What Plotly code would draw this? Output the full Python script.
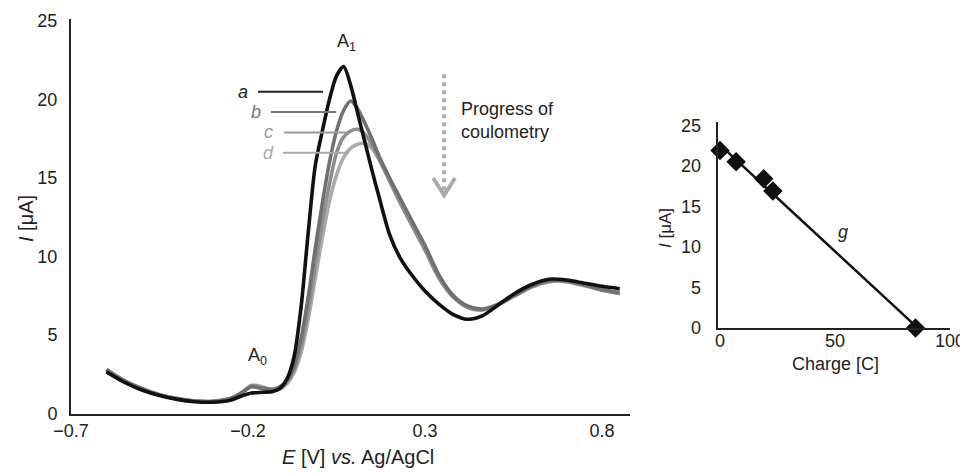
import plotly.graph_objects as go
import numpy as np

# ---- Data: differential pulse voltammograms ----
E = [-0.60, -0.55, -0.50, -0.45, -0.40, -0.35, -0.30, -0.25, -0.22, -0.19, -0.16, -0.13,
     -0.11, -0.09, -0.07, -0.05, -0.03, -0.01, 0.01, 0.03, 0.05, 0.07, 0.09, 0.11, 0.13,
     0.15, 0.17, 0.20, 0.23, 0.26, 0.30, 0.34, 0.38, 0.42, 0.46, 0.50, 0.55, 0.60, 0.65,
     0.70, 0.75, 0.80, 0.85]
I_a = [2.65, 2.0, 1.5, 1.15, 0.9, 0.75, 0.72, 0.85, 1.1, 1.3, 1.35, 1.4,
       1.6, 2.2, 3.6, 6.8, 11.5, 15.8, 18.0, 20.0, 21.5, 22.1, 20.9, 19.1, 17.3,
       15.5, 13.8, 11.4, 9.9, 8.9, 7.8, 6.95, 6.3, 6.0, 6.2, 6.8, 7.6, 8.2, 8.55,
       8.5, 8.3, 8.1, 7.95]
I_b = [2.8, 2.1, 1.6, 1.2, 0.95, 0.8, 0.78, 0.95, 1.3, 1.7, 1.6, 1.55,
       1.7, 2.1, 3.0, 4.8, 7.4, 10.5, 13.4, 16.0, 18.0, 19.3, 19.9, 19.4, 18.5,
       17.5, 16.4, 15.0, 13.7, 12.4, 10.7, 8.8, 7.5, 6.85, 6.65, 6.9, 7.5, 8.1, 8.45,
       8.45, 8.2, 7.9, 7.7]
I_c = [2.75, 2.05, 1.55, 1.18, 0.93, 0.78, 0.76, 0.92, 1.25, 1.75, 1.65, 1.5,
       1.6, 2.0, 2.8, 4.3, 6.6, 9.4, 12.2, 14.6, 16.6, 17.6, 18.0, 18.1, 17.8,
       17.1, 16.2, 14.8, 13.4, 12.1, 10.4, 8.6, 7.4, 6.75, 6.6, 6.85, 7.45, 8.05, 8.4,
       8.4, 8.15, 7.85, 7.65]
I_d = [2.8, 2.1, 1.58, 1.2, 0.95, 0.8, 0.78, 0.95, 1.3, 1.8, 1.7, 1.5,
       1.55, 1.9, 2.6, 3.9, 6.0, 8.6, 11.2, 13.5, 15.2, 16.3, 16.9, 17.15, 17.2,
       16.9, 16.2, 14.9, 13.5, 12.2, 10.5, 8.7, 7.5, 6.8, 6.6, 6.85, 7.45, 8.05, 8.4,
       8.4, 8.15, 7.85, 7.65]
curve_names = ["a", "b", "c", "d"]
curve_colors = ["#111111", "#707070", "#8e8e8e", "#ababab"]

# ---- Data: inset, peak current vs charge ----
charge = [0, 7, 19, 23, 85]
peak_I = [21.9, 20.5, 18.4, 16.9, 0.0]

x_ticks = [-0.7, -0.2, 0.3, 0.8]
x_ticktext = ["\u22120.7", "\u22120.2", "0.3", "0.8"]
y_ticks = [0, 5, 10, 15, 20, 25]
inset_x_ticks = [0, 50, 100]

FONT = "Liberation Sans, Arial, Helvetica, sans-serif"
TXT = "#222222"

fig = go.Figure()

series = list(zip(curve_names, [I_a, I_b, I_c, I_d], curve_colors))
for name, ys, col in series[::-1]:
    fig.add_trace(go.Scatter(x=E, y=ys, mode="lines", name=name,
                             line=dict(color=col, width=3.6, shape="spline", smoothing=0.8),
                             xaxis="x", yaxis="y", showlegend=False))

# inset fit line
coef = np.polyfit(charge, peak_I, 1)
fit_x = [min(charge), max(charge)]
fit_y = [coef[0] * v + coef[1] for v in fit_x]
fig.add_trace(go.Scatter(x=fit_x, y=fit_y, mode="lines", line=dict(color="#111", width=2.5),
                         xaxis="x2", yaxis="y2", showlegend=False))
fig.add_trace(go.Scatter(x=charge, y=peak_I, mode="markers",
                         marker=dict(symbol="diamond", size=15, color="#111"),
                         xaxis="x2", yaxis="y2", showlegend=False, cliponaxis=False))

shapes = []
annotations = []
# leader lines for a-d
leader = [(-0.172, 0.012, 20.5, "#222"), (-0.135, 0.049, 19.2, "#777"),
          (-0.098, 0.085, 17.9, "#999"), (-0.101, 0.085, 16.6, "#aaa")]
label_x = [-0.214, -0.178, -0.142, -0.143]
for (x0, x1, yv, col), lx, nm in zip(leader, label_x, curve_names):
    shapes.append(dict(type="line", xref="x", yref="y", x0=x0, x1=x1, y0=yv, y1=yv,
                       line=dict(color=col, width=2)))
    annotations.append(dict(x=lx, y=yv, xref="x", yref="y", text="<i>%s</i>" % nm,
                            showarrow=False, font=dict(family=FONT, size=18, color=col)))

# progress arrow (dotted)
shapes.append(dict(type="line", xref="x", yref="y", x0=0.354, x1=0.354, y0=21.6, y1=14.2,
                   line=dict(color="#aaaaaa", width=4, dash="dot")))
shapes.append(dict(type="path", xref="x", yref="y",
                   path="M 0.323 15.0 L 0.354 13.9 L 0.385 15.0",
                   line=dict(color="#aaaaaa", width=4)))

C = dict(xanchor="center", yanchor="middle", showarrow=False)
annotations += [
    dict(x=0.396, y=18.65, xref="x", yref="y", text="Progress of<br>coulometry", align="left",
         xanchor="left", yanchor="middle", showarrow=False,
         font=dict(family=FONT, size=18, color=TXT)),
    dict(x=0.077, y=23.6, xref="x", yref="y", text="A<sub>1</sub>",
         font=dict(family=FONT, size=18, color=TXT), **C),
    dict(x=-0.172, y=3.6, xref="x", yref="y", text="A<sub>0</sub>",
         font=dict(family=FONT, size=18, color=TXT), **C),
    dict(x=53.5, y=11.8, xref="x2", yref="y2", text="<i>g</i>",
         font=dict(family=FONT, size=18, color=TXT), **C),
    # axis titles
    dict(x=26 / 960, y=1 - 219 / 473, xref="paper", yref="paper", text="<i>I</i> [\u03bcA]",
         textangle=-90, font=dict(family=FONT, size=20, color=TXT), **C),
    dict(x=358 / 960, y=1 - 457 / 473, xref="paper", yref="paper",
         text="<i>E</i> [V] <i>vs.</i> Ag/AgCl",
         font=dict(family=FONT, size=20, color=TXT), **C),
    dict(x=665 / 960, y=1 - 228 / 473, xref="paper", yref="paper", text="<i>I</i> [\u03bcA]",
         textangle=-90, font=dict(family=FONT, size=17, color=TXT), **C),
    dict(x=835 / 960, y=1 - 364 / 473, xref="paper", yref="paper", text="Charge [C]",
         font=dict(family=FONT, size=18, color=TXT), **C),
]

axis_common = dict(showline=True, linecolor="#222", linewidth=2, showgrid=False,
                   zeroline=False, tickcolor="rgba(0,0,0,0)",
                   automargin=False, ticklabeloverflow="allow",
                   tickfont=dict(family=FONT, size=18, color=TXT))

fig.update_layout(
    width=960, height=473, margin=dict(l=0, r=0, t=0, b=0),
    paper_bgcolor="white", plot_bgcolor="white",
    xaxis=dict(domain=[71 / 960, 630 / 960], range=[-0.7, 0.879], tickvals=x_ticks,
               ticktext=x_ticktext, anchor="y", ticks="", ticklabelstandoff=0, **axis_common),
    yaxis=dict(domain=[1 - 413.5 / 473, 1 - 19.4 / 473], range=[0, 25.1], tickvals=y_ticks,
               anchor="x", ticks="outside", ticklen=8, **axis_common),
    xaxis2=dict(domain=[717.7 / 960, 950 / 960], range=[-1, 100], tickvals=inset_x_ticks,
                anchor="y2", ticks="", ticklabelstandoff=-5, **axis_common),
    yaxis2=dict(domain=[1 - 328 / 473, 1 - 122 / 473], range=[0, 25.4], tickvals=y_ticks,
                anchor="x2", ticks="outside", ticklen=11, **axis_common),
    shapes=shapes, annotations=annotations,
)

fig.write_html("out.html", config={"displayModeBar": False},
               post_script="document.body.style.margin='0';")
